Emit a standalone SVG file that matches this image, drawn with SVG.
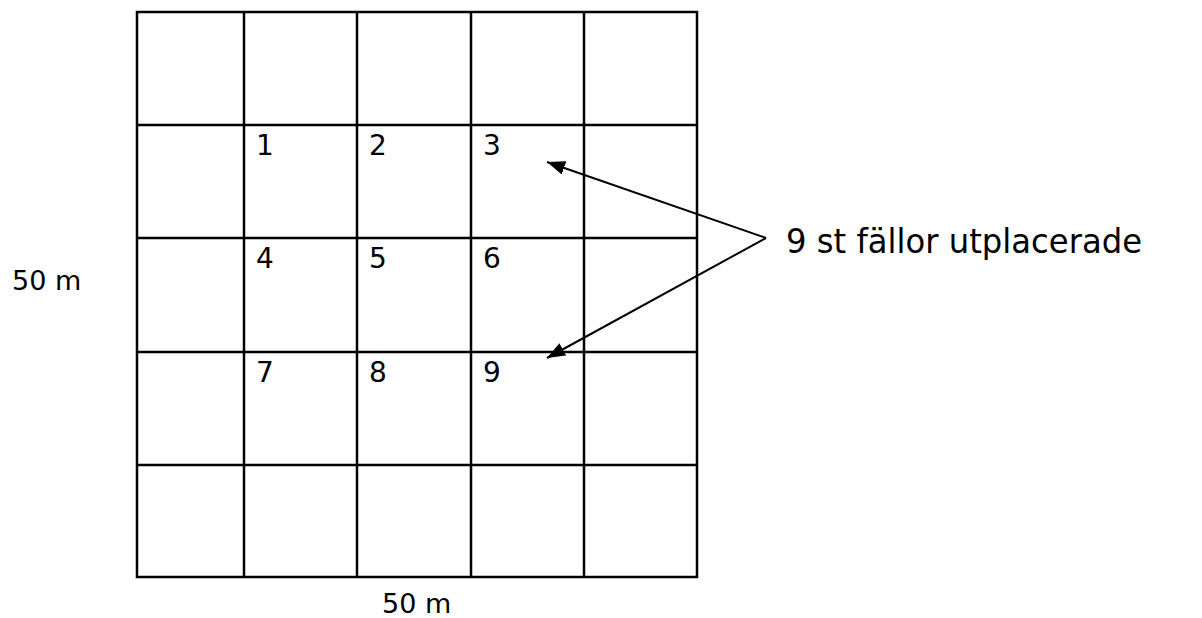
<svg xmlns="http://www.w3.org/2000/svg" width="1202" height="618" viewBox="0 0 1202 618">
<style>
.grid{stroke:#000;stroke-width:2.5;fill:none}
.t{font-family:"DejaVu Sans","Liberation Sans",sans-serif;fill:#000}
.n{font-size:28px}
.conn{stroke:#000;stroke-width:2;fill:none}
</style>
<defs>
<marker id="ah" viewBox="0 0 10 10" refX="10" refY="5" markerWidth="18" markerHeight="14" markerUnits="userSpaceOnUse" orient="auto" preserveAspectRatio="none">
<path d="M0,0 L10,5 L0,10 Z" fill="#000"/>
</marker>
</defs>
<rect width="1202" height="618" fill="#fff"/>
<g id="grid" class="grid">
<rect x="137" y="12" width="560" height="565"/>
<line x1="244" y1="12" x2="244" y2="577"/>
<line x1="357" y1="12" x2="357" y2="577"/>
<line x1="471" y1="12" x2="471" y2="577"/>
<line x1="584" y1="12" x2="584" y2="577"/>
<line x1="137" y1="125" x2="697" y2="125"/>
<line x1="137" y1="238" x2="697" y2="238"/>
<line x1="137" y1="352" x2="697" y2="352"/>
<line x1="137" y1="465" x2="697" y2="465"/>
</g>
<g id="numbers" class="t n">
<text x="256" y="155">1</text>
<text x="369" y="155">2</text>
<text x="483" y="155">3</text>
<text x="256" y="268">4</text>
<text x="369" y="268">5</text>
<text x="483" y="268">6</text>
<text x="256" y="382">7</text>
<text x="369" y="382">8</text>
<text x="483" y="382">9</text>
</g>
<g id="connectors" class="conn">
<line x1="766" y1="238" x2="547" y2="162" marker-end="url(#ah)"/>
<line x1="766" y1="238" x2="547" y2="358" marker-end="url(#ah)"/>
</g>
<g id="label" class="t">
<text x="786" y="253" font-size="34" textLength="356" lengthAdjust="spacingAndGlyphs">9 st fällor utplacerade</text>
</g>
<g id="dims" class="t n">
<text x="12" y="290" font-size="27">50 m</text>
<text x="382" y="613" font-size="27">50 m</text>
</g>
</svg>
